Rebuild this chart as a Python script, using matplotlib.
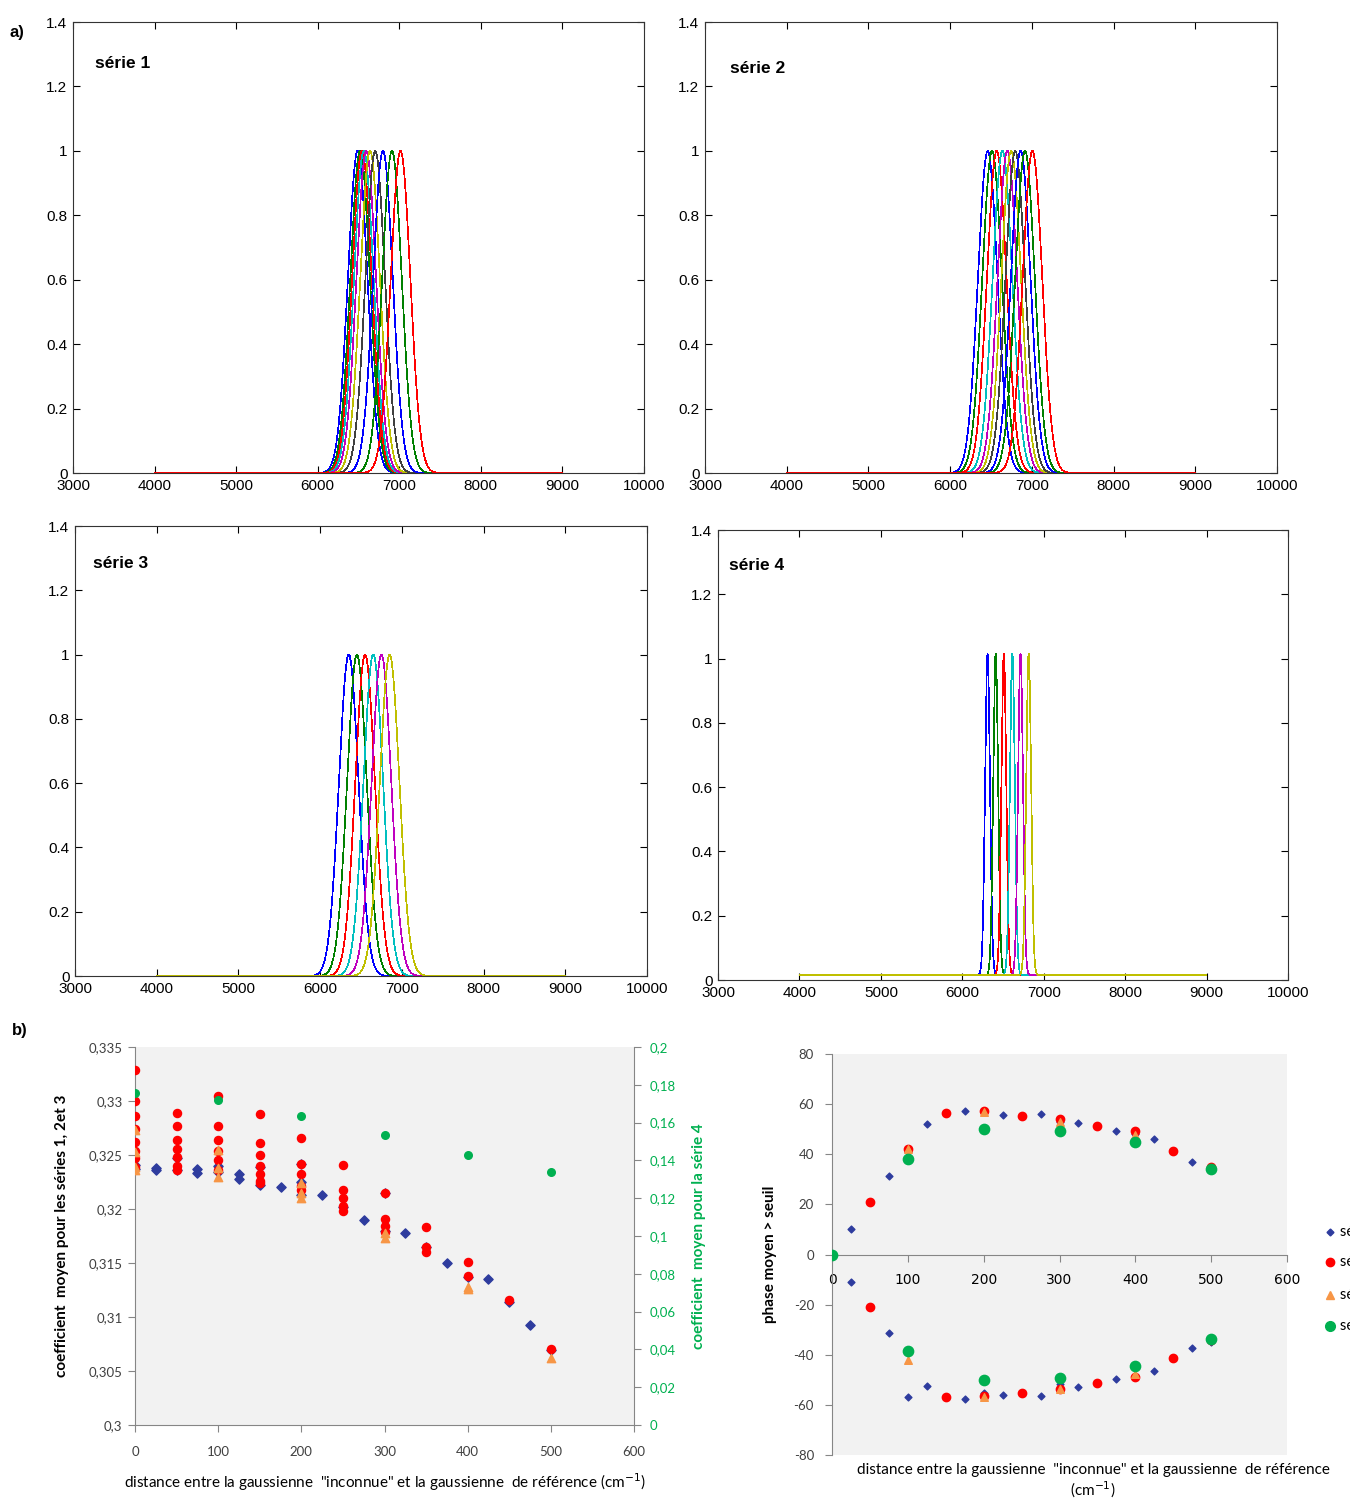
import numpy as np
import matplotlib
matplotlib.use("Agg")
import matplotlib.pyplot as plt

# ---------------- data ----------------
# panel a) : gaussian centres (cm-1) and widths (sigma, cm-1)
s1_centres = [6490, 6520, 6542, 6565, 6595, 6642, 6705, 6800, 6910, 7015]
s2_centres = [6460, 6513, 6570, 6640, 6700, 6747, 6797, 6863, 6916, 7007]
s3_centres = [6350, 6450, 6550, 6650, 6750, 6850]
s4_centres = [6310, 6410, 6510, 6615, 6715, 6815]
sigma_123 = 120
sigma_4 = 30
offset_4 = 0.015
wn_range = [4000, 9000]
matlab_colors = [(0, 0, 1), (0, 0.5, 0), (1, 0, 0), (0, 0.75, 0.75),
                 (0.75, 0, 0.75), (0.75, 0.75, 0), (0.25, 0.25, 0.25)]
top_xticks = [3000, 4000, 5000, 6000, 7000, 8000, 9000, 10000]
top_yticks = [0, 0.2, 0.4, 0.6, 0.8, 1, 1.2, 1.4]
top_ylabels = ["0", "0.2", "0.4", "0.6", "0.8", "1", "1.2", "1.4"]

# panel b) left : coefficient moyen
c1_x = [0, 0, 25, 25, 50, 50, 75, 75, 100, 100, 125, 125, 150, 150, 175, 200, 200, 200,
        225, 250, 275, 300, 300, 325, 350, 375, 400, 425, 450, 475, 500]
c1_y = [0.3241, 0.3237, 0.3238, 0.3236, 0.3247, 0.3236, 0.3237, 0.3233, 0.3240, 0.3234,
        0.3232, 0.3228, 0.3239, 0.3222, 0.3220, 0.3242, 0.3225, 0.3213, 0.3213, 0.3202,
        0.3190, 0.3215, 0.3180, 0.3178, 0.3165, 0.3150, 0.3137, 0.3135, 0.3114, 0.3093, 0.3069]
c2_x = [0, 0, 0, 0, 0, 0, 0, 0, 50, 50, 50, 50, 50, 50, 50, 100, 100, 100, 100, 100, 100,
        150, 150, 150, 150, 150, 150, 150, 200, 200, 200, 200, 200, 250, 250, 250, 250, 250,
        300, 300, 300, 300, 350, 350, 350, 400, 400, 450, 500]
c2_y = [0.3329, 0.3300, 0.3286, 0.3274, 0.3262, 0.3254, 0.3247, 0.3239,
        0.3289, 0.3277, 0.3264, 0.3256, 0.3248, 0.3240, 0.3236,
        0.3305, 0.3277, 0.3264, 0.3254, 0.3245, 0.3236,
        0.3288, 0.3261, 0.3250, 0.3240, 0.3232, 0.3226, 0.3224,
        0.3266, 0.3242, 0.3232, 0.3221, 0.3218,
        0.3241, 0.3218, 0.3210, 0.3203, 0.3198,
        0.3215, 0.3191, 0.3184, 0.3179,
        0.3183, 0.3165, 0.3160,
        0.3151, 0.3138, 0.3116, 0.3070]
c3_x = [0, 0, 0, 0, 100, 100, 100, 200, 200, 200, 300, 300, 400, 400, 500]
c3_y = [0.3273, 0.3253, 0.3239, 0.3236, 0.3255, 0.3238, 0.3230, 0.3224, 0.3215, 0.3210,
        0.3178, 0.3173, 0.3128, 0.3126, 0.3062]
c4_x = [0, 100, 200, 300, 400, 500]
c4_y = [0.1754, 0.1719, 0.1634, 0.1532, 0.1428, 0.1337]
left_yticks = [0.3, 0.305, 0.31, 0.315, 0.32, 0.325, 0.33, 0.335]
left_ylabels = ["0,3", "0,305", "0,31", "0,315", "0,32", "0,325", "0,33", "0,335"]
right_yticks = [0, 0.02, 0.04, 0.06, 0.08, 0.1, 0.12, 0.14, 0.16, 0.18, 0.2]
right_ylabels = ["0", "0,02", "0,04", "0,06", "0,08", "0,1", "0,12", "0,14", "0,16", "0,18", "0,2"]
dist_ticks = [0, 100, 200, 300, 400, 500, 600]

# panel b) right : phase moyen > seuil
p1_x = [25, 75, 100, 125, 175, 200, 225, 275, 300, 325, 375, 400, 425, 475, 500,
        25, 75, 100, 125, 175, 200, 225, 275, 300, 325, 375, 425, 475, 500]
p1_y = [10.1, 31.2, 41.0, 52.1, 57.4, 57.0, 55.6, 56.0, 53.0, 52.4, 49.1, 48.0, 46.0, 36.8, 35.0,
        -10.8, -31.5, -56.8, -52.5, -57.7, -55.4, -56.0, -56.4, -51.5, -52.8, -49.5, -46.3, -37.2, -34.8]
p2_x = [50, 100, 150, 200, 250, 300, 350, 400, 450, 500,
        50, 150, 200, 250, 300, 350, 400, 450, 500]
p2_y = [21.0, 41.9, 56.5, 57.2, 55.2, 53.9, 51.3, 49.2, 41.2, 35.0,
        -20.9, -56.8, -56.4, -55.2, -53.5, -51.1, -48.8, -41.1, -34.2]
p3_x = [100, 200, 300, 400, 500, 100, 200, 300, 400]
p3_y = [42.0, 56.8, 52.9, 47.6, 34.6, -42.2, -57.0, -53.5, -47.7]
p4_x = [0, 100, 200, 300, 400, 500, 100, 200, 300, 400, 500]
p4_y = [0.0, 38.3, 50.1, 49.3, 44.7, 34.0, -38.4, -50.1, -49.1, -44.5, -33.9]
phase_yticks = [-80, -60, -40, -20, 0, 20, 40, 60, 80]
legend_labels = ["série 1", "série 2", "série 3", "série 4"]

# ---------------- styles ----------------
W, H = 1350, 1499
fig = plt.figure(figsize=(W / 100, H / 100), dpi=100)
TOPFONT = "Liberation Sans"
BOTFONT = "Lato"
BLUE = "#2E3C9E"
RED = "#FF0000"
ORANGE = "#F79646"
GREEN = "#00B050"
GRID_BG = "#F2F2F2"
SPINE = "#868686"
TICKCOL = "#404040"


def px_axes(left, right, top, bottom):
    return fig.add_axes([left / W, 1 - bottom / H, (right - left) / W, (bottom - top) / H])


x = np.linspace(wn_range[0], wn_range[1], 2501)


def gauss(c, s, off=0.0):
    return off + np.exp(-0.5 * ((x - c) / s) ** 2)


top_panels = [
    ((73, 644, 22, 473), s1_centres, sigma_123, 0.0, "série 1", (0.038, 0.907)),
    ((705, 1277, 22, 473), s2_centres, sigma_123, 0.0, "série 2", (0.044, 0.896)),
    ((75, 647, 526, 976), s3_centres, sigma_123, 0.0, "série 3", (0.031, 0.916)),
    ((718, 1288, 530, 980), s4_centres, sigma_4, offset_4, "série 4", (0.019, 0.922)),
]
for (l, r, t, b), centres, sig, off, title, tpos in top_panels:
    ax = px_axes(l, r, t, b)
    for i, c in enumerate(centres):
        ax.plot(x, gauss(c, sig, off), color=matlab_colors[i % 7], lw=0.5, antialiased=False)
    ax.set_xlim(3000, 10000)
    ax.set_ylim(0, 1.4)
    ax.set_xticks(top_xticks)
    ax.set_xticklabels([str(v) for v in top_xticks], family=TOPFONT, fontsize=11)
    ax.set_yticks(top_yticks)
    ax.set_yticklabels(top_ylabels, family=TOPFONT, fontsize=11)
    ax.tick_params(direction="in", top=True, right=True, length=5, width=0.8, pad=4)
    for s in ax.spines.values():
        s.set_linewidth(0.8)
        s.set_color("#333333")
    ax.text(tpos[0], tpos[1], title, transform=ax.transAxes, family=TOPFONT,
            fontweight="bold", fontsize=12.5, ha="left", va="center")

fig.text(10 / W, 1 - 33 / H, "a)", family=TOPFONT, fontweight="bold", fontsize=12, va="center")
fig.text(12 / W, 1 - 1030 / H, "b)", family=TOPFONT, fontweight="bold", fontsize=12, va="center")

# ---------------- bottom left ----------------
axl = px_axes(135, 634, 1047, 1425)
axl.set_facecolor(GRID_BG)
axl.scatter(c1_x, c1_y, marker="D", s=22, color=BLUE, zorder=3)
axl.scatter(c2_x, c2_y, marker="o", s=34, color=RED, zorder=4)
axl.scatter(c3_x, c3_y, marker="^", s=36, color=ORANGE, zorder=5)
axl.set_xlim(0, 600)
axl.set_ylim(0.3, 0.335)
axl.set_xticks(dist_ticks)
axl.set_xticklabels([str(v) for v in dist_ticks], family=BOTFONT, fontsize=9.5, color=TICKCOL)
axl.set_yticks(left_yticks)
axl.set_yticklabels(left_ylabels, family=BOTFONT, fontsize=9.5, color=TICKCOL)
axl.spines["top"].set_visible(False)
axl.spines["right"].set_visible(False)
for s in ("left", "bottom"):
    axl.spines[s].set_color(SPINE)
axl.tick_params(axis="y", direction="out", length=5, color=SPINE, pad=4)
axl.tick_params(axis="x", direction="out", length=5, color=SPINE, pad=10)
axl.set_xlabel('distance entre la gaussienne  "inconnue" et la gaussienne  de référence (cm$^{-1}$)',
               family=BOTFONT, fontsize=11, labelpad=10)
axl.set_ylabel("coefficient  moyen pour les séries 1, 2et 3", family=BOTFONT,
               fontweight="bold", fontsize=11, labelpad=14)

axr = axl.twinx()
axr.scatter(c4_x, c4_y, marker="o", s=30, color=GREEN, zorder=6)
axr.set_ylim(0, 0.2)
axr.set_yticks(right_yticks)
axr.set_yticklabels(right_ylabels, family=BOTFONT, fontsize=9.5, color=GREEN)
axr.spines["top"].set_visible(False)
axr.spines["left"].set_visible(False)
axr.spines["bottom"].set_visible(False)
axr.spines["right"].set_color(SPINE)
axr.tick_params(direction="out", length=5, color=SPINE, pad=6)
axr.set_ylabel("coefficient  moyen pour la série 4", family=BOTFONT, fontweight="bold",
               fontsize=11, color=GREEN, labelpad=12)

# ---------------- bottom right ----------------
axp = px_axes(832, 1287, 1054, 1455)
axp.set_facecolor(GRID_BG)
axp.scatter(p1_x, p1_y, marker="D", s=12, color=BLUE, zorder=3)
axp.scatter(p2_x, p2_y, marker="o", s=36, color=RED, zorder=4)
axp.scatter(p3_x, p3_y, marker="^", s=30, color=ORANGE, zorder=5)
axp.scatter(p4_x, p4_y, marker="o", s=55, color=GREEN, zorder=6)
axp.set_xlim(0, 600)
axp.set_ylim(-80, 80)
axp.set_xticks(dist_ticks)
axp.set_xticklabels([str(v) for v in dist_ticks], family=BOTFONT, fontsize=9.5, color=TICKCOL)
axp.set_yticks(phase_yticks)
axp.set_yticklabels([str(v) for v in phase_yticks], family=BOTFONT, fontsize=9.5, color=TICKCOL)
axp.spines["top"].set_visible(False)
axp.spines["right"].set_visible(False)
axp.spines["bottom"].set_position(("data", 0))
for s in ("left", "bottom"):
    axp.spines[s].set_color(SPINE)
axp.tick_params(direction="out", length=5, color=SPINE, pad=8)
axp.set_ylabel("phase moyen > seuil", family=BOTFONT, fontweight="bold", fontsize=11, labelpad=12)
fig.text(1093 / W, 1 - 1470 / H, 'distance entre la gaussienne  "inconnue" et la gaussienne  de référence',
         family=BOTFONT, fontsize=11, ha="center", va="center")
fig.text(1093 / W, 1 - 1490 / H, "(cm$^{-1}$)", family=BOTFONT, fontsize=11, ha="center", va="center")

# legend (partly cut by the figure edge as in the original)
leg_y = [1232, 1262, 1295, 1326]
leg_markers = ["D", "o", "^", "o"]
leg_sizes = [3.5, 6, 5.5, 7]
leg_colors = [BLUE, RED, ORANGE, GREEN]
for lab, yy, mk, ms, col in zip(legend_labels, leg_y, leg_markers, leg_sizes, leg_colors):
    fig.add_artist(plt.Line2D([1330 / W], [1 - yy / H], transform=fig.transFigure,
                              marker=mk, markersize=ms, color=col, linestyle="none"))
    fig.text(1340 / W, 1 - yy / H, lab, family=BOTFONT, fontsize=10.5, va="center", ha="left")

fig.savefig("out.png", dpi=100)
